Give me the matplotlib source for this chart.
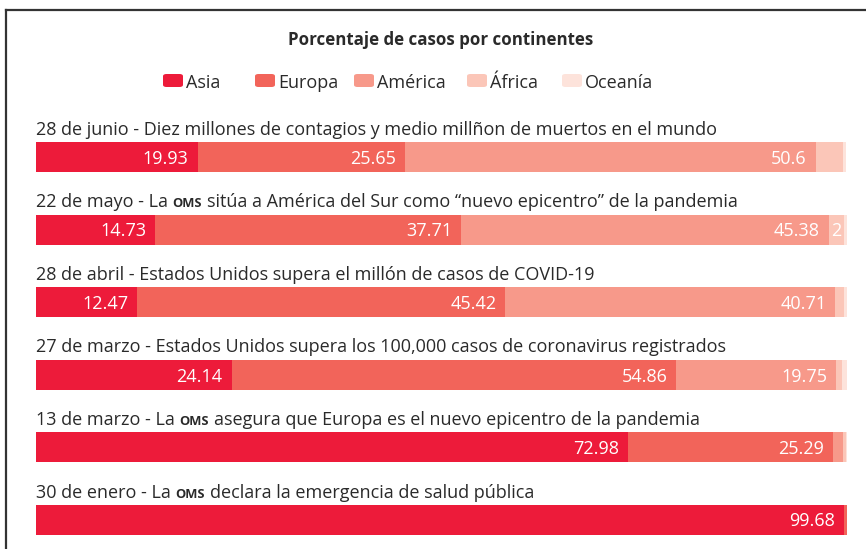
import matplotlib
matplotlib.use('Agg')
import matplotlib.pyplot as plt
from matplotlib.patches import FancyBboxPatch
from matplotlib.lines import Line2D
from matplotlib.transforms import offset_copy

# ---------------- data ----------------
title = 'Porcentaje de casos por continentes'
continents = ['Asia', 'Europa', 'América', 'África', 'Oceanía']
colors = ['#ED1B3A', '#F2645A', '#F7998A', '#FBC6B8', '#FDE3DB']

events = [
    ['28 de junio - Diez millones de contagios y medio millñon de muertos en el mundo'],
    ['22 de mayo - La', 'OMS', 'sitúa a América del Sur como “nuevo epicentro” de la pandemia'],
    ['28 de abril - Estados Unidos supera el millón de casos de COVID-19'],
    ['27 de marzo - Estados Unidos supera los 100,000 casos de coronavirus registrados'],
    ['13 de marzo - La', 'OMS', 'asegura que Europa es el nuevo epicentro de la pandemia'],
    ['30 de enero - La', 'OMS', 'declara la emergencia de salud pública'],
]

asia    = [19.93, 14.73, 12.47, 24.14, 72.98, 99.68]
europa  = [25.65, 37.71, 45.42, 54.86, 25.29, 0.32]
america = [50.6, 45.38, 40.71, 19.75, 1.3, 0.0]
africa  = [3.4, 1.9, 1.1, 0.7, 0.3, 0.0]
oceania = [0.4, 0.3, 0.3, 0.55, 0.13, 0.0]

asia_lbl    = ['19.93', '14.73', '12.47', '24.14', '72.98', '99.68']
europa_lbl  = ['25.65', '37.71', '45.42', '54.86', '25.29', '']
america_lbl = ['50.6', '45.38', '40.71', '19.75', '', '']
africa_lbl  = ['', '2', '', '', '', '']
oceania_lbl = ['', '', '', '', '', '']

series = [asia, europa, america, africa, oceania]
series_lbl = [asia_lbl, europa_lbl, america_lbl, africa_lbl, oceania_lbl]

# ---------------- layout ----------------
W, H = 866, 549
FONT = 'Open Sans'
TXT = '#2a2a2a'
fig = plt.figure(figsize=(W / 100, H / 100), dpi=100)
fig.patch.set_facecolor('white')

def fx(x):
    return x / W

def fy(y):
    return 1 - y / H

renderer = fig.canvas.get_renderer()

def text_width(s, **kw):
    t = fig.text(0, 0, s, **kw)
    w = t.get_window_extent(renderer).width
    t.remove()
    return w

# scale body font so the first caption spans the same width as in the reference
fs = 12 * 678 / text_width(events[0][0], fontsize=12, family=FONT)
fs_title = 11.5 * 307 / text_width(title, fontsize=11.5, family=FONT, fontweight='bold')

# frame
fig.add_artist(Line2D([fx(6), fx(6)], [fy(10), fy(H + 5)], color='#333333', lw=1.6,
                      transform=fig.transFigure))
fig.add_artist(Line2D([fx(6), fx(W + 5)], [fy(10), fy(10)], color='#333333', lw=1.6,
                      transform=fig.transFigure))

# bars axes: x 0..100 spans pixels 36..846.6; y units = rows
x0, x100 = 36, 846.6
row0_c, row_step = 157, 72.5
ax = fig.add_axes([fx(x0), 0, (x100 - x0) / W, 1])
ax.set_xlim(0, 100)
ax.set_ylim((H - row0_c) / row_step, -row0_c / row_step)
ax.axis('off')

bar_h = 30 / row_step
n = len(events)
rows = list(range(n))
left = [0.0] * n
for vals, lbls, col in zip(series, series_lbl, colors):
    ax.barh(rows, vals, left=left, height=bar_h, color=col, linewidth=0)
    for i in rows:
        if lbls[i]:
            end = left[i] + vals[i]
            if vals[i] < 4:
                ax.text(left[i] + vals[i] / 2, i, lbls[i], ha='center', va='center_baseline',
                        color='white', fontsize=fs, family=FONT)
            else:
                ax.text(end, i, lbls[i], ha='right', va='center_baseline',
                        color='white', fontsize=fs, family=FONT,
                        transform=offset_copy(ax.transData, fig=fig, x=-9, y=0, units='dots'))
    left = [l + v for l, v in zip(left, vals)]

# event labels (with small-caps "OMS")
space_w = text_width('a a', fontsize=fs, family=FONT) - text_width('aa', fontsize=fs, family=FONT)
for i, parts in enumerate(events):
    y_base = row0_c + row_step * i - 22
    x = 36
    for k, p in enumerate(parts):
        if p == 'OMS':
            kw = dict(fontsize=fs * 0.72, family=FONT, fontweight='bold', color=TXT)
        else:
            kw = dict(fontsize=fs, family=FONT, color=TXT)
        t = fig.text(fx(x), fy(y_base), p, va='baseline', ha='left', **kw)
        x += t.get_window_extent(renderer).width + space_w

# title
fig.text(fx(441), fy(40), title, ha='center', va='center', fontsize=fs_title,
         fontweight='bold', family=FONT, color=TXT)

# legend
leg_x = [163, 255, 354, 467, 562]
for xl, name, col in zip(leg_x, continents, colors):
    fig.add_artist(FancyBboxPatch((fx(xl), fy(87)), fx(20), 13 / H,
                                  boxstyle='round,pad=0,rounding_size=0.004',
                                  transform=fig.transFigure, facecolor=col, edgecolor='none'))
    fig.text(fx(xl + 23), fy(80.5), name, ha='left', va='center_baseline', fontsize=fs,
             family=FONT, color=TXT)

fig.savefig('out.png', dpi=100, facecolor='white')
